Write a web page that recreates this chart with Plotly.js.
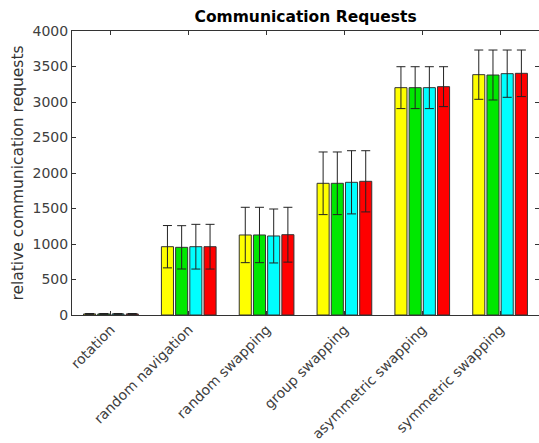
<!DOCTYPE html>
<html>
<head>
<meta charset="utf-8">
<script src="https://cdn.plot.ly/plotly-3.0.1.min.js"></script>
<style>html,body{margin:0;padding:0;background:#fff;}#chart{width:539px;height:443px;}</style>
</head>
<body>
<div id="chart"></div>
<script>
const categories = ["rotation", "random navigation", "random swapping", "group swapping", "asymmetric swapping", "symmetric swapping"];
const seriesNames = ["A", "B", "C", "D"];
const colors = ["#ffff00", "#00e800", "#00ffff", "#ff0000"];
const valuesA = [15, 962, 1127, 1855, 3202, 3385];
const valuesB = [15, 953, 1127, 1855, 3202, 3380];
const valuesC = [15, 962, 1113, 1869, 3202, 3399];
const valuesD = [15, 962, 1131, 1883, 3216, 3404];
const errA = [6, 298, 390, 441, 295, 347];
const errB = [6, 305, 390, 441, 295, 352];
const errC = [6, 315, 380, 445, 295, 333];
const errD = [6, 315, 386, 431, 281, 328];
const yTicks = [0, 500, 1000, 1500, 2000, 2500, 3000, 3500, 4000];

const vals = [valuesA, valuesB, valuesC, valuesD];
const errs = [errA, errB, errC, errD];
const xs = categories.map((c, i) => i + 1);

const traces = vals.map((v, k) => ({
  type: "bar",
  name: seriesNames[k],
  x: xs,
  y: v,
  marker: { color: colors[k], line: { color: "#333333", width: 1 } },
  error_y: { type: "data", array: errs[k], visible: true, color: "#222222", thickness: 1, width: 4.5 },
  hoverinfo: "y"
}));

const layout = {
  width: 539, height: 443,
  margin: { l: 72, r: 0, t: 31, b: 128 },
  paper_bgcolor: "#ffffff",
  plot_bgcolor: "#ffffff",
  showlegend: false,
  barmode: "group",
  bargap: 0.27,
  bargroupgap: 0.15,
  title: {
    text: "<b>Communication Requests</b>",
    font: { family: "DejaVu Sans", size: 15.5, color: "#000000" },
    x: 0.567, xanchor: "center", y: 0.962, yanchor: "middle"
  },
  font: { family: "DejaVu Sans", size: 14, color: "#404040" },
  xaxis: {
    range: [0.5, 6.5],
    tickvals: xs,
    ticktext: categories,
    tickangle: -45,
    ticks: "inside",
    ticklen: 4,
    tickcolor: "#333333",
    showline: true,
    linecolor: "#333333",
    linewidth: 1,
    mirror: "ticks",
    showgrid: false,
    zeroline: false,
    tickfont: { family: "DejaVu Sans", size: 14, color: "#404040" }
  },
  yaxis: {
    range: [0, 4000],
    tickvals: yTicks,
    ticktext: yTicks.map(String),
    ticks: "inside",
    ticklen: 4,
    tickcolor: "#333333",
    showline: true,
    linecolor: "#333333",
    linewidth: 1,
    mirror: "ticks",
    showgrid: false,
    zeroline: false,
    tickfont: { family: "DejaVu Sans", size: 14, color: "#404040" },
    title: { text: "relative communication requests", font: { family: "DejaVu Sans", size: 15.5, color: "#333333" }, standoff: 5 }
  }
};

Plotly.newPlot("chart", traces, layout, { displayModeBar: false, staticPlot: true });
</script>
</body>
</html>
